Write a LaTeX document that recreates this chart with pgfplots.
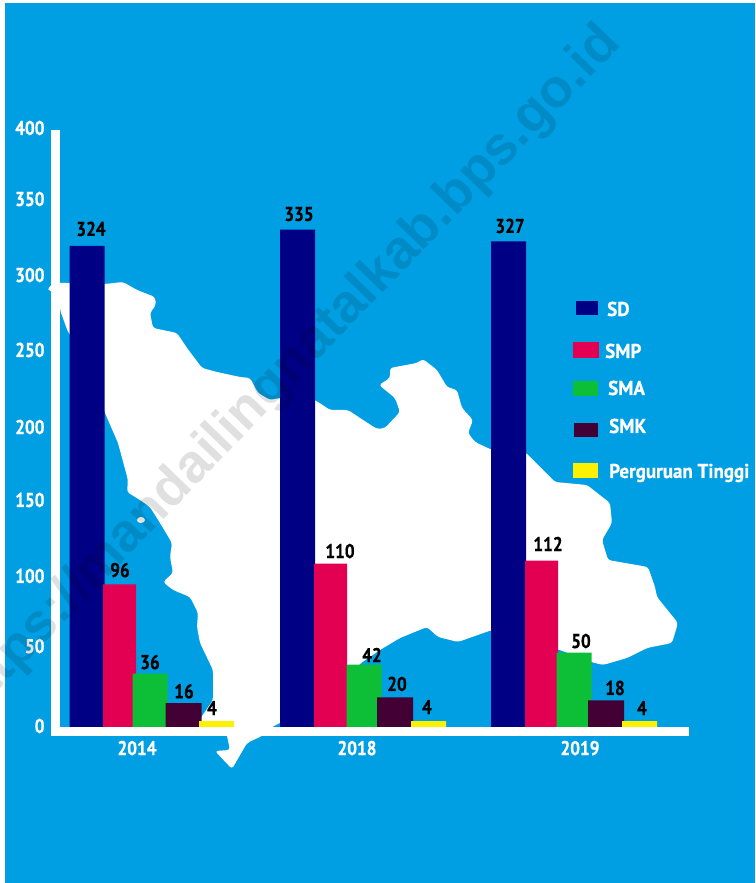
\documentclass[border=0pt]{standalone}
\usepackage{pgfplots}
\pgfplotsset{compat=1.18}
\usepackage{pgfplotstable}
\usepackage{fontspec}
\setmainfont{PT Sans}[FakeStretch=0.86,BoldFeatures={FakeStretch=0.86,FakeBold=0.6}]
\newfontfamily\lgfont{PT Sans}[FakeStretch=0.95,BoldFeatures={FakeStretch=0.95,FakeBold=0.6}]
\newfontfamily\wmfont{Liberation Sans}[Ligatures=NoCommon]
\definecolor{bgblue}{HTML}{009FE3}
\definecolor{cSD}{HTML}{000085}
\definecolor{cSMP}{HTML}{E30052}
\definecolor{cSMA}{HTML}{0DBF37}
\definecolor{cSMK}{HTML}{430034}
\definecolor{cPT}{HTML}{FBF100}
\newcommand{\lblfont}{\bfseries\fontsize{20}{20}\selectfont}
\pgfplotstableread{
x y dx dy
87 324 4 17
297.5 335 1.5 15.5
508.5 327 1.5 15.5
}\tSD
\pgfplotstableread{
x y dx dy
119.5 96 0.5 14.4
330.5 110 9.5 12.6
541.5 112 6.5 16.7
}\tSMP
\pgfplotstableread{
x y dx dy
150 36 0 11.5
364 42 8 9.6
574 50 7 11.75
}\tSMA
\pgfplotstableread{
x y dx dy
183.5 16 0.5 12
395 20 2 13.3
606 18 9 12.3
}\tSMK
\pgfplotstableread{
x y dx dy
216.5 4 -4.5 13
428.5 4 -1.5 14
639.5 4 2.5 13
}\tPT
\begin{document}
\begin{tikzpicture}
\clip (0pt,0pt) rectangle (755pt,883pt);
\begin{scope}[x=1pt,y=-1pt,shift={(0pt,883pt)}]
\fill[white] (0,0) rectangle (755,883);
\fill[bgblue] (5,3) rectangle (755,883);
% map silhouette
\fill[white,rounded corners=3pt]
 (47,290) -- (53,283) -- (69,283) -- (105,284) -- (123,282) -- (137,290) -- (155,297) -- (156,305)
 -- (150,313) -- (153,328) -- (177,333) -- (187,348) -- (202,368) -- (217,372) -- (240,377) -- (250,378)
 -- (258,393) -- (270,400) -- (280,398) -- (315,400) -- (330,410) -- (348,410) -- (360,418) -- (377,429)
 -- (385,428) -- (400,412) -- (395,398) -- (379,385) -- (390,378) -- (390,368) -- (417,363) -- (423,359)
 -- (437,370) -- (447,387) -- (457,390) -- (462,408) -- (473,420) -- (468,433) -- (475,442) -- (492,450)
 -- (525,452) -- (540,467) -- (555,482) -- (587,485) -- (610,503) -- (612,523) -- (602,540) -- (608,560)
 -- (648,567) -- (655,587) -- (657,597) -- (678,623) -- (672,643) -- (647,648) -- (627,658) -- (603,665)
 -- (591,662) -- (560,650) -- (525,640) -- (492,630) -- (458,642) -- (438,637) -- (427,627) -- (400,638)
 -- (380,650) -- (361,663) -- (345,680) -- (313,700) -- (280,723) -- (272,727) -- (262,736) -- (247,743)
 -- (232,769) -- (215,751) -- (230,750) -- (227,736) -- (225,727) -- (198,722) -- (213,700) -- (213,670)
 -- (200,643) -- (197,627) -- (198,613) -- (190,597) -- (173,590) -- (163,582) -- (173,573) -- (170,557)
 -- (172,543) -- (160,523) -- (150,507) -- (140,500) -- (127,492) -- (128,480) -- (118,443) -- (105,413)
 -- (90,360) -- (68,332) -- (60,310) -- (60,293) -- cycle;
\fill[white] (141,520) ellipse (4 and 3);
\end{scope}
\begin{axis}[
  at={(55pt,151.7pt)}, anchor=south west,
  scale only axis, width=629.5pt, height=603.3pt,
  xmin=55, xmax=684.5, ymin=-2.9, ymax=403.4,
  clip=false,
  axis x line=bottom, axis y line=left,
  axis line style={-, white, line width=9pt, line cap=rect},
  y axis line style={shorten >=6.5pt},
  major tick length=0pt,
  xtick={137,357,580}, xticklabels={2014,2018,2019},
  ytick={0.7,54.5,101.7,152.9,202,253.9,304.4,355.6,403.4},
  yticklabels={0,50,100,150,200,250,300,350,400},
  tick label style={font=\lblfont, text=white},
  yticklabel style={xshift=-7pt},
  xticklabel style={yshift=-6pt},
  /pgf/number format/assume math mode=true,
  /pgf/number format/fixed,
  ybar, bar shift=0pt,
  every axis plot/.append style={draw=none},
  visualization depends on={\thisrow{dx} \as \dx},
  visualization depends on={\thisrow{dy} \as \dy},
  nodes near coords,
  every node near coord/.append style={anchor=center, font=\lblfont, text=black,
     xshift=\dx pt, yshift=\dy pt},
]
\addplot[fill=cSD, bar width=35pt] table[x=x,y=y] {\tSD};
\addplot[fill=cSMP, bar width=33pt] table[x=x,y=y] {\tSMP};
\addplot[fill=cSMA, bar width=35pt] table[x=x,y=y] {\tSMA};
\addplot[fill=cSMK, bar width=36pt] table[x=x,y=y] {\tSMK};
\addplot[fill=cPT, bar width=35pt] table[x=x,y=y] {\tPT};
\end{axis}
\begin{scope}[x=1pt,y=-1pt,shift={(0pt,883pt)}]
% legend
\fill[cSD] (576,301) rectangle (598,315);
\fill[cSMP] (573,342) rectangle (599,358);
\fill[cSMA] (573,381) rectangle (598,396);
\fill[cSMK] (574,423) rectangle (598,437);
\fill[cPT] (573,463) rectangle (598,478);
\tikzset{lg/.style={anchor=west, inner sep=0pt, font=\lgfont\bfseries\fontsize{20}{20}\selectfont, text=white}}
\node[lg] at (607,309) {SD};
\node[lg] at (605,351) {SMP};
\node[lg] at (608,388) {SMA};
\node[lg] at (609,426) {SMK};
\node[lg] at (609,473) {Perguruan Tinggi};
% watermark
\node[rotate=46, text=black, opacity=0.12, inner sep=0pt,
      font=\wmfont\bfseries\fontsize{54}{54}\selectfont, anchor=base east]
   at (622,45) {https://mandailingnatalkab.bps.go.id};
\end{scope}
\end{tikzpicture}
\end{document}
